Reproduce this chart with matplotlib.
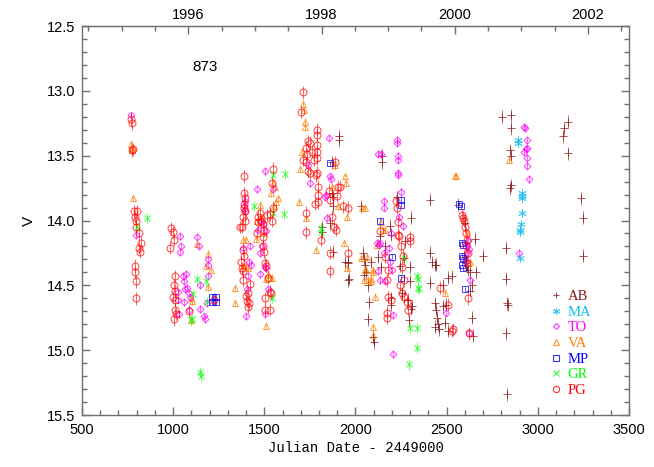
import matplotlib
matplotlib.use("Agg")
import matplotlib.pyplot as plt
from matplotlib.ticker import MultipleLocator, FixedLocator
from matplotlib.lines import Line2D
import numpy as np

# ---------------- data (JD - 2449000, V magnitude) ----------------
ab_jd = [1910, 1912, 1871, 1871, 1876, 1876, 1816, 1816, 1876, 1943, 2030, 1964, 1960,
         2041, 2045, 2052, 2055, 2047, 2085, 2146, 2146, 2228, 2305, 2409, 2189, 2195,
         2162, 2124, 2135, 2140, 2069, 2074, 2069, 2102, 2096, 2299, 2299, 2288, 2305,
         2294, 2195, 2195, 2244, 2266, 2272, 2255, 2310, 2409, 2420, 2436, 2442, 2409,
         2436, 2440, 2436, 2447, 2453, 2457, 2480, 2490, 2480, 2510, 2495, 2505, 2530,
         2562, 2601, 2655, 2612, 2630, 2639, 2628, 2639, 2645, 2661, 2699, 2826, 2826,
         2831, 2836, 2826, 2831, 2804, 2853, 2853, 2848, 2853, 2853, 2848, 3138, 3144,
         3166, 3166, 3237, 3248, 3248, 2595, 2606, 2617, 1960, 1960, 1860]
ab_v = [13.35, 13.38, 13.55, 13.79, 13.82, 13.89, 14.05, 14.09, 14.24, 14.32, 13.89, 14.45, 14.33,
        14.25, 14.30, 14.34, 14.40, 14.42, 14.32, 13.50, 13.55, 13.82, 13.98, 13.84, 14.04, 14.11,
        14.20, 14.28, 14.12, 14.36, 14.50, 14.63, 14.76, 14.94, 14.90, 14.36, 14.47, 14.61, 14.68,
        14.77, 14.60, 14.65, 14.35, 14.29, 14.16, 14.56, 14.66, 14.25, 14.32, 14.34, 14.34, 14.48,
        14.64, 14.69, 14.82, 14.75, 14.80, 14.84, 14.66, 14.79, 14.50, 14.44, 14.65, 14.85, 14.43,
        13.88, 14.02, 14.14, 14.35, 14.40, 14.50, 14.54, 14.75, 14.89, 14.40, 14.27, 14.21, 14.45,
        14.64, 14.65, 14.87, 15.34, 13.20, 13.19, 13.29, 13.46, 13.50, 13.73, 13.75, 13.35, 13.29,
        13.24, 13.48, 13.83, 13.98, 14.27, 14.28, 14.33, 14.38, 14.32, 14.46, 14.02]

ma_jd = [2891, 2893, 2913, 2913, 2913, 2913, 2908, 2904, 2902, 2902]
ma_v = [13.38, 13.40, 13.79, 13.81, 13.83, 13.94, 14.03, 14.07, 14.09, 14.29]

to_jd = [769, 796, 1038, 1041, 1038, 1131, 1142, 1191, 1193, 1071, 1052, 1060, 1065, 1078,
         1087, 1092, 1060, 1025, 1025, 1030, 1087, 1147, 1147, 1170, 1175, 1191, 1186,
         1504, 1460, 1389, 1392, 1395, 1548, 1482, 1490, 1467, 1510, 1383, 1422, 1416,
         1425, 1476, 1487, 1504, 1510, 1476, 1411, 1405, 1400, 1520, 1504, 1740, 1751,
         1855, 1833, 1838, 1860, 1864, 1844, 2124, 2117, 2228, 2228, 2231, 2231, 2233,
         2233, 2140, 2156, 2156, 2250, 2237, 2262, 2195, 2135, 2130, 2156, 2184, 2189,
         2200, 2162, 2135, 2125, 2206, 2206, 2497, 2612, 2615, 2620, 2610, 2606, 2628,
         2620, 2897, 2924, 2927, 2941, 2941, 2924, 2935, 2941, 2941, 2952]
to_v = [13.19, 14.11, 14.12, 14.20, 14.24, 14.13, 14.20, 14.30, 14.34, 14.41, 14.43, 14.47, 14.53, 14.52,
        14.56, 14.59, 14.63, 14.55, 14.61, 14.72, 14.69, 14.68, 14.50, 14.74, 14.76, 14.43, 14.64,
        13.62, 13.76, 13.89, 13.85, 13.93, 13.76, 14.00, 14.03, 14.07, 14.08, 14.21, 14.20, 14.32,
        14.34, 14.25, 14.20, 14.36, 14.37, 14.41, 14.43, 14.53, 14.74, 14.53, 14.72, 13.57, 13.71,
        13.36, 13.82, 13.80, 13.66, 13.68, 13.98, 13.49, 14.17, 13.38, 13.40, 13.50, 13.53, 13.63,
        13.65, 13.49, 13.85, 13.90, 13.78, 13.97, 14.04, 14.10, 14.17, 14.19, 14.25, 14.21, 14.32,
        14.38, 14.47, 14.46, 14.39, 14.73, 15.03, 14.71, 14.19, 14.16, 14.22, 14.25, 14.31, 14.46,
        14.87, 14.25, 13.28, 13.29, 13.38, 13.44, 13.47, 13.45, 13.52, 13.58, 13.68]

va_jd = [769, 775, 772, 780, 1131, 1191, 1180, 1210, 1191, 1098, 1103, 1098, 1339, 1339,
         1712, 1717, 1723, 1723, 1706, 1696, 1690, 1783, 1943, 1946, 1952, 1935, 1952,
         1548, 1559, 1575, 1565, 1553, 1535, 1510, 1476, 1487, 1460, 1455, 1500, 1520,
         1531, 1542, 1510, 1400, 1400, 1410, 1383, 1383, 1729, 1871, 1888, 1904, 2036,
         2052, 2052, 2085, 2096, 2096, 2085, 2107, 2096, 2096, 2030, 2140, 2151, 2160,
         2124, 2118, 2063, 2058, 2047, 2069, 2546, 2551, 2628, 2842, 2491, 2612, 2617]
va_v = [13.41, 13.44, 13.46, 13.83, 14.18, 14.26, 14.35, 14.38, 14.51, 14.60, 14.62, 14.77, 14.52, 14.64,
        13.10, 13.15, 13.24, 13.28, 13.47, 13.60, 13.86, 14.23, 13.66, 13.71, 13.97, 14.17, 14.37,
        13.71, 13.74, 13.83, 13.86, 13.89, 13.79, 14.81, 13.88, 13.97, 14.00, 14.14, 14.10, 14.41,
        14.44, 14.44, 14.45, 14.15, 14.35, 14.37, 14.15, 14.35, 13.98, 13.74, 13.57, 13.89, 13.90,
        13.90, 14.38, 14.45, 14.38, 14.40, 14.47, 14.59, 14.82, 14.88, 14.29, 14.01, 14.07, 14.07,
        14.17, 14.19, 14.28, 14.38, 14.46, 14.46, 13.66, 13.66, 14.32, 13.53, 14.56, 14.10, 14.33]

mp_jd = [1213, 1213, 1235, 1235, 1860, 2135, 2250, 2250, 2200, 2250, 2568, 2578, 2584,
         2590, 2584, 2590, 2584, 2590, 2601]
mp_v = [14.59, 14.63, 14.59, 14.63, 13.56, 14.00, 13.84, 13.88, 14.28, 14.44, 13.87, 13.89, 14.17,
        14.19, 14.27, 14.29, 14.34, 14.37, 14.53]

gr_jd = [857, 802, 1131, 1180, 1186, 1098, 1103, 1109, 1147, 1150, 1542, 1613, 1548, 1444,
         1548, 1608, 1811, 1811, 2266, 2338, 2343, 2343, 2349, 2299, 2338, 2338, 2294]
gr_v = [13.98, 14.05, 14.45, 14.47, 14.63, 14.77, 14.76, 14.57, 15.17, 15.20, 14.60, 13.64, 13.65, 13.89,
        13.94, 13.95, 14.06, 14.09, 14.29, 14.43, 14.45, 14.52, 14.53, 14.83, 14.83, 14.98, 15.11]

pg_jd = [769, 772, 775, 780, 785, 800, 790, 795, 796, 815, 825, 815, 820, 790, 790, 796, 796,
         988, 1000, 1005, 985, 1010, 1005, 1008, 1000, 1012, 1008, 1015, 1003, 1087, 1222,
         1389, 1389, 1392, 1386, 1390, 1395, 1383, 1392, 1380, 1367, 1383, 1389, 1383, 1383,
         1422, 1411, 1416, 1372, 1378, 1400, 1405, 1411,
         1548, 1543, 1548, 1477, 1467, 1482, 1490, 1500, 1515, 1530, 1540, 1460, 1495, 1500,
         1510, 1520, 1531, 1537, 1504, 1531, 1504, 1504, 1490, 1465,
         1712, 1701, 1751, 1762, 1770, 1789, 1789, 1789, 1789, 1789, 1740, 1729, 1734, 1729,
         1712, 1789, 1783, 1751, 1740, 1794, 1794, 1794, 1778, 1729, 1729, 1811, 1860, 1860,
         1904, 1899, 1893, 1882, 1871, 1888, 1855, 1860, 1915, 1930, 1960, 1960,
         2222, 2227, 2233, 2239, 2134, 2299, 2299, 2233, 2250, 2261, 2162, 2255, 2266, 2178,
         2173, 2244, 2266, 2283, 2288, 2255, 2178, 2173, 2173, 2192, 2464, 2507, 2529, 2535,
         2584, 2590, 2595, 2600, 2606, 2612, 2606, 2617, 2612, 2617, 2622]
pg_v = [13.22, 13.25, 13.46, 13.45, 13.93, 13.93, 13.97, 14.00, 14.05, 14.10, 14.17, 14.21, 14.24, 14.35, 14.40, 14.47, 14.60,
        14.06, 14.09, 14.15, 14.21, 14.43, 14.50, 14.54, 14.59, 14.61, 14.69, 14.72, 14.76, 14.70, 14.61,
        13.66, 13.79, 13.83, 13.87, 13.90, 13.93, 13.97, 14.00, 14.05, 14.05, 14.23, 14.27, 14.39, 14.46,
        14.49, 14.56, 14.64, 14.32, 14.37, 14.58, 14.62, 14.67,
        13.60, 13.71, 13.90, 13.94, 13.97, 14.00, 14.03, 14.07, 13.96, 13.95, 14.00, 14.10, 14.13, 14.24,
        14.35, 14.44, 14.55, 14.56, 14.69, 14.69, 14.60, 14.33, 14.20, 14.01,
        13.01, 13.16, 13.40, 13.47, 13.53, 13.30, 13.34, 13.42, 13.47, 13.52, 13.39, 13.44, 13.49, 13.55,
        13.53, 13.63, 13.65, 13.63, 13.62, 13.74, 13.80, 13.86, 13.87, 13.94, 14.09, 14.15, 14.25, 14.39,
        13.74, 13.81, 14.07, 14.05, 13.97, 13.55, 13.77, 13.84, 13.74, 13.89, 13.90, 14.25,
        13.85, 13.90, 14.01, 14.12, 14.08, 14.13, 14.16, 14.11, 14.20, 14.27, 14.28, 14.36, 14.46, 14.38,
        14.46, 14.50, 14.59, 14.63, 14.69, 14.56, 14.59, 14.71, 14.75, 14.61, 14.52, 14.65, 14.85, 14.84,
        13.96, 13.98, 14.00, 14.05, 14.10, 14.15, 14.20, 14.25, 14.33, 14.60, 14.87]

series_names = ["AB", "MA", "TO", "VA", "MP", "GR", "PG"]
year_ticks = [1996, 1998, 2000, 2002]
label_873 = "873"

# ---------------- styling ----------------
colors = {"AB": "#8b1a1a", "MA": "#10bff0", "TO": "#ff00ff", "VA": "#ff8000",
          "MP": "#0000ff", "GR": "#00ff00", "PG": "#ff0000"}
markers = {"AB": "+", "MA": (6, 2, 0), "TO": "D", "VA": "^", "MP": "s", "GR": "x", "PG": "o"}
msize = {"AB": 6, "MA": 6, "TO": 3.5, "VA": 5, "MP": 4.5, "GR": 5, "PG": 5}
legsize = {"AB": 5, "MA": 5, "TO": 3, "VA": 4.5, "MP": 4.5, "GR": 4.5, "PG": 4.5}
errs = {"AB": 0.05, "MA": 0.02, "TO": 0.03, "VA": 0.03, "MP": 0.02, "GR": 0.04, "PG": 0.05}
data = {"AB": (ab_jd, ab_v), "MA": (ma_jd, ma_v), "TO": (to_jd, to_v), "VA": (va_jd, va_v),
        "MP": (mp_jd, mp_v), "GR": (gr_jd, gr_v), "PG": (pg_jd, pg_v)}

fig = plt.figure(figsize=(6.54, 4.67), dpi=100)
ax = fig.add_axes([82 / 654, 1 - 415 / 467, 547 / 654, 389 / 467])

draw_order = ["AB", "VA", "TO", "GR", "MP", "MA", "PG"]
for name in draw_order:
    x, y = data[name]
    c = colors[name]
    ax.errorbar(x, y, yerr=errs[name], fmt="none", ecolor=c, elinewidth=0.7, alpha=0.6, zorder=2)
    ax.plot(x, y, linestyle="none", marker=markers[name], ms=msize[name], mfc="none",
            mec=c, mew=0.7, alpha=0.75, zorder=3)

ax.set_xlim(500, 3500)
ax.set_ylim(15.5, 12.5)

spine_c = "#707070"
for s in ax.spines.values():
    s.set_color(spine_c)
    s.set_linewidth(1.0)

ax.xaxis.set_major_locator(MultipleLocator(500))
ax.xaxis.set_minor_locator(MultipleLocator(100))
ax.yaxis.set_major_locator(MultipleLocator(0.5))
ax.yaxis.set_minor_locator(MultipleLocator(0.1))
ax.yaxis.set_major_formatter(plt.FuncFormatter(lambda v, p: f"{v:.1f}"))
ax.tick_params(which="both", direction="in", right=True, top=False, color=spine_c,
               labelsize=10.5, labelfontfamily="Liberation Sans")
ax.tick_params(which="major", length=6, width=1)
ax.tick_params(which="minor", length=3.5, width=1)
ax.tick_params(axis="x", pad=6)
ax.tick_params(axis="y", pad=5)

def jd2yr(j):
    return 1996 + (np.asarray(j) - 1083.5) / 365.25

def yr2jd(yv):
    return 1083.5 + (np.asarray(yv) - 1996) * 365.25

sec = ax.secondary_xaxis("top", functions=(jd2yr, yr2jd))
sec.xaxis.set_major_locator(FixedLocator(year_ticks))
sec.xaxis.set_minor_locator(MultipleLocator(0.5))
sec.tick_params(which="both", direction="in", color=spine_c, labelsize=10.5,
                labelfontfamily="Liberation Sans", pad=3)
sec.tick_params(which="major", length=6, width=1)
sec.tick_params(which="minor", length=3.5, width=1)
sec.spines["top"].set_color(spine_c)

ax.set_xlabel("Julian Date - 2449000", family="Liberation Mono", fontsize=10, labelpad=3)
ax.set_ylabel("V", family="Liberation Sans", fontsize=11, labelpad=8)

ax.text(1175, 12.82, label_873, fontsize=11, family="Liberation Sans", ha="center", va="center")

handles = [Line2D([], [], linestyle="none", marker=markers[n], ms=legsize[n], mfc="none",
                  mec=colors[n], mew=0.8, alpha=0.8) for n in series_names]
leg = ax.legend(handles, series_names, loc="upper left", bbox_to_anchor=(0.853, 0.322),
                frameon=False, prop={"family": "Liberation Serif", "size": 10.5},
                handlelength=1.0, handletextpad=0.3, labelspacing=0.17, borderpad=0,
                borderaxespad=0)
for t, n in zip(leg.get_texts(), series_names):
    t.set_color(colors[n])

fig.savefig("out.png", dpi=100)
